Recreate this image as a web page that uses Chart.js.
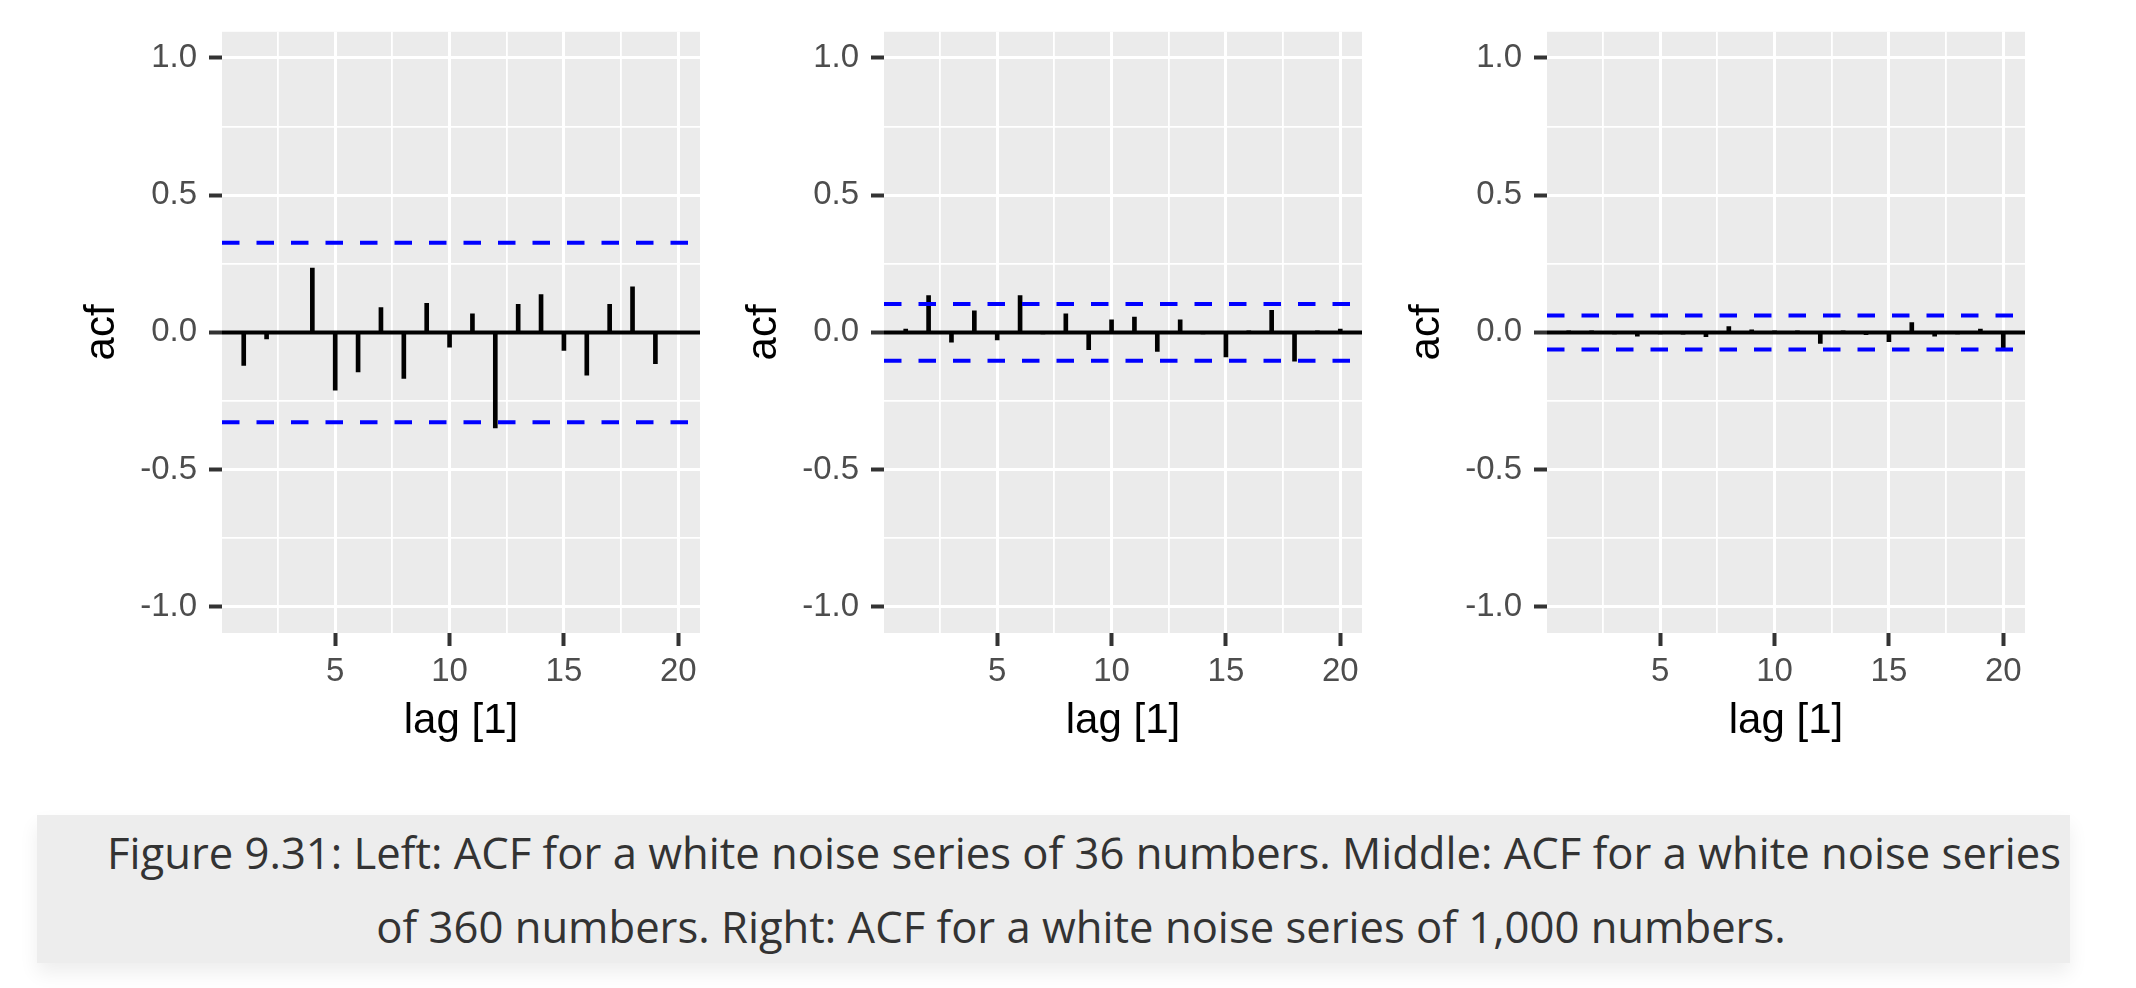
<!DOCTYPE html>
<html>
<head>
<meta charset="utf-8">
<title>ACF for white noise series</title>
<script src="https://cdn.jsdelivr.net/npm/chart.js@4"></script>
<style>
    body {
        margin: 0;
        background: #ffffff;
        width: 2136px;
        height: 988px;
        position: relative;
        overflow: hidden;
    }
    .panel {
        position: absolute;
        top: 0;
        width: 660px;
        height: 760px;
    }
    .caption {
        position: absolute;
        left: 37px;
        top: 815px;
        width: 2033px;
        height: 148px;
        background: #ededed;
        box-shadow: 0 10px 18px rgba(0, 0, 0, 0.07);
        font-family: "Open Sans", sans-serif;
        font-size: 43.6px;
        line-height: 74px;
        color: #333333;
        text-align: center;
        white-space: nowrap;
        box-sizing: border-box;
        padding-left: 70px;
        padding-right: 15px;
    }
</style>
</head>
<body>
<div class="panel" style="left:52px"><canvas id="acfChart36"></canvas></div>
<div class="panel" style="left:714px"><canvas id="acfChart360"></canvas></div>
<div class="panel" style="left:1377px"><canvas id="acfChart1000"></canvas></div>
<div class="caption">Figure 9.31: Left: ACF for a white noise series of 36 numbers. Middle: ACF for a white noise series<br>of 360 numbers. Right: ACF for a white noise series of 1,000 numbers.</div>

<script>
// lags shown on every panel
const lags = [1, 2, 3, 4, 5, 6, 7, 8, 9, 10, 11, 12, 13, 14, 15, 16, 17, 18, 19, 20];

// autocorrelations
const acf36 = [-0.120, -0.024, 0.000, 0.234, -0.210, -0.144, 0.090, -0.168, 0.106, -0.054,
               0.068, -0.348, 0.102, 0.138, -0.066, -0.156, 0.102, 0.166, -0.114, 0.000];
const acf360 = [0.012, 0.134, -0.036, 0.079, -0.027, 0.134, -0.003, 0.068, -0.063, 0.046,
                0.056, -0.069, 0.046, -0.003, -0.089, 0.002, 0.080, -0.105, 0.002, 0.012];
const acf1000 = [0.005, 0.003, -0.004, -0.014, -0.003, -0.006, -0.016, 0.021, 0.009, 0.002,
                 0.002, -0.040, 0.003, -0.008, -0.034, 0.036, -0.014, -0.004, 0.012, -0.056];

// blue dashed bounds for each panel
const ciBounds = [0.327, 0.103, 0.062];

// axis limits and breaks (ggplot style: majors labelled, minors only as grid)
const xLimits = [0.05, 20.95];
const yLimits = [-1.095, 1.095];
const xBreaks = [2.5, 5, 7.5, 10, 12.5, 15, 17.5, 20];
const xLabelled = [5, 10, 15, 20];
const yBreaks = [-1, -0.75, -0.5, -0.25, 0, 0.25, 0.5, 0.75, 1];
const yLabelled = [-1, -0.5, 0, 0.5, 1];

const tickFont = { family: "'Liberation Sans', Arial, sans-serif", size: 33 };
const titleFont = { family: "'Liberation Sans', Arial, sans-serif", size: 42 };

// grey panel background behind the grid
const panelBackground = {
    id: 'panelBackground',
    beforeDraw(chart) {
        const { ctx, chartArea } = chart;
        ctx.save();
        ctx.fillStyle = '#ebebeb';
        ctx.fillRect(chartArea.left, chartArea.top, chartArea.width, chartArea.height);
        ctx.restore();
    }
};

document.addEventListener('DOMContentLoaded', () => {
    createAcfChart('acfChart36', acf36, ciBounds[0]);
    createAcfChart('acfChart360', acf360, ciBounds[1]);
    createAcfChart('acfChart1000', acf1000, ciBounds[2]);
});

// true when the grid context belongs to a labelled (major) break
function isMajor(list, ctx) {
    return !!(ctx && ctx.tick && list.includes(ctx.tick.value));
}

// Helper function to create one ACF panel
function createAcfChart(canvasId, values, bound) {
    const canvas = document.getElementById(canvasId);
    if (!canvas) return;

    new Chart(canvas.getContext('2d'), {
        type: 'bar',
        data: {
            datasets: [
                {
                    type: 'line',
                    data: [{ x: xLimits[0], y: bound }, { x: xLimits[1], y: bound }],
                    borderColor: '#0000ff',
                    borderWidth: 4,
                    borderDash: [17.5, 17],
                    pointRadius: 0,
                    order: 0
                },
                {
                    type: 'line',
                    data: [{ x: xLimits[0], y: -bound }, { x: xLimits[1], y: -bound }],
                    borderColor: '#0000ff',
                    borderWidth: 4,
                    borderDash: [17.5, 17],
                    pointRadius: 0,
                    order: 0
                },
                {
                    data: lags.map((lag, i) => ({ x: lag, y: values[i] })),
                    backgroundColor: '#000000',
                    barThickness: 4,
                    order: 1
                },
                {
                    type: 'line',
                    data: [{ x: xLimits[0], y: 0 }, { x: xLimits[1], y: 0 }],
                    borderColor: '#000000',
                    borderWidth: 4,
                    pointRadius: 0,
                    order: 2
                }
            ]
        },
        options: {
            responsive: true,
            maintainAspectRatio: false,
            animation: false,
            layout: { padding: { top: 26, right: 12, bottom: 0, left: 0 } },
            plugins: {
                legend: { display: false },
                tooltip: { enabled: false }
            },
            scales: {
                x: {
                    type: 'linear',
                    min: xLimits[0],
                    max: xLimits[1],
                    offset: false,
                    afterBuildTicks: scale => { scale.ticks = xBreaks.map(v => ({ value: v })); },
                    afterFit: scale => { scale.height = 127; },
                    border: { display: false },
                    grid: {
                        offset: false,
                        color: '#ffffff',
                        lineWidth: ctx => isMajor(xLabelled, ctx) ? 3 : 1.8,
                        tickColor: ctx => isMajor(xLabelled, ctx) ? '#333333' : 'rgba(0,0,0,0)',
                        tickWidth: 4,
                        tickLength: 13
                    },
                    ticks: {
                        autoSkip: false,
                        maxRotation: 0,
                        padding: 6,
                        color: '#4d4d4d',
                        font: tickFont,
                        callback: v => xLabelled.includes(v) ? String(v) : ''
                    },
                    title: {
                        display: true,
                        text: 'lag [1]',
                        color: '#000000',
                        font: titleFont,
                        padding: { top: 0, bottom: 13 }
                    }
                },
                y: {
                    min: yLimits[0],
                    max: yLimits[1],
                    afterBuildTicks: scale => { scale.ticks = yBreaks.map(v => ({ value: v })); },
                    afterFit: scale => { scale.width = 170; },
                    border: { display: false },
                    grid: {
                        color: '#ffffff',
                        lineWidth: ctx => isMajor(yLabelled, ctx) ? 3 : 1.8,
                        tickColor: ctx => isMajor(yLabelled, ctx) ? '#333333' : 'rgba(0,0,0,0)',
                        tickWidth: 4,
                        tickLength: 13
                    },
                    ticks: {
                        autoSkip: false,
                        padding: 12,
                        color: '#4d4d4d',
                        font: tickFont,
                        callback: v => yLabelled.includes(v) ? v.toFixed(1) : ''
                    },
                    title: {
                        display: true,
                        text: 'acf',
                        color: '#000000',
                        font: titleFont,
                        padding: { top: 25, bottom: 0 }
                    }
                }
            }
        },
        plugins: [panelBackground]
    });
}
</script>
</body>
</html>
